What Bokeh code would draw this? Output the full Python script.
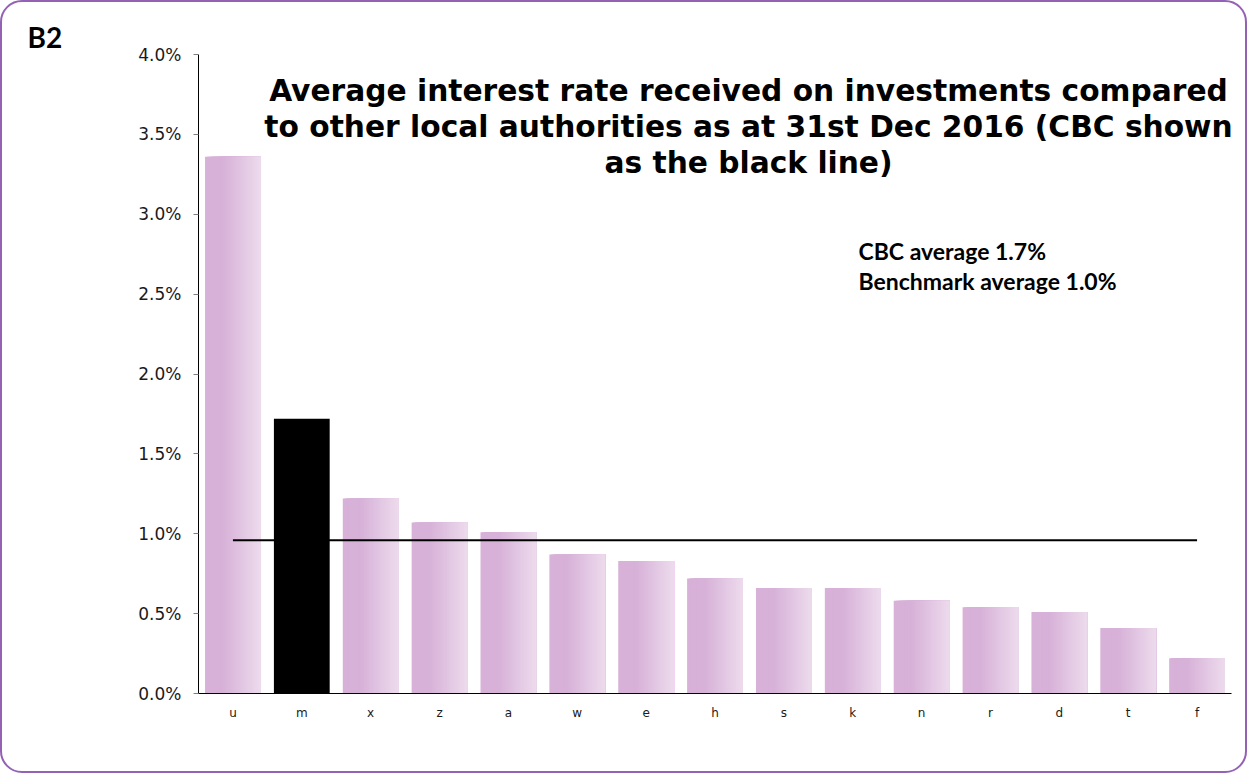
from bokeh.plotting import figure
from bokeh.models import (ColumnDataSource, Label, CustomJSTickFormatter,
                          FixedTicker, Range1d, Title)
from bokeh.transform import dodge
from bokeh.embed import file_html
from bokeh.resources import INLINE

# ---- data ----
categories = ["u", "m", "x", "z", "a", "w", "e", "h", "s", "k", "n", "r", "d", "t", "f"]
rates = [3.36, 1.72, 1.22, 1.07, 1.01, 0.87, 0.83, 0.72, 0.66, 0.66, 0.58, 0.54, 0.51, 0.41, 0.22]
cbc_category = "m"
benchmark = 0.96
y_ticks = [0.0, 0.5, 1.0, 1.5, 2.0, 2.5, 3.0, 3.5, 4.0]
title_lines = ["Average interest rate received on investments compared",
               "to other local authorities as at 31st Dec 2016 (CBC shown",
               "as the black line)"]
note_lines = ["CBC average 1.7%", "Benchmark average  1.0%"]
panel_label = "B2"

W, H = 1247, 773
p = figure(x_range=categories, y_range=Range1d(0, 4.0), width=W, height=H,
           output_backend="svg", toolbar_location=None,
           min_border_left=198, min_border_right=16, min_border_top=54, min_border_bottom=80,
           background_fill_color="white", border_fill_color=None, border_fill_alpha=0)
p.outline_line_color = None
p.xgrid.grid_line_color = None
p.ygrid.grid_line_color = None
# rounded purple frame around the whole chart
p.styles = {"outline": "2px solid #9462b4", "outline-offset": "-2px",
            "border-radius": "22px", "background-color": "white"}

# gradient bars: overlapping strips, each from its left edge to the bar's right edge
other = [(c, v) for c, v in zip(categories, rates) if c != cbc_category]
src = ColumnDataSource(dict(cat=[c for c, _ in other], val=[v for _, v in other]))
bar_w = 0.81
N = 30
c0 = (215, 177, 216)
c1 = (237, 220, 237)
for i in range(N):
    t = i / N
    f = 0.0 if t < 0.3 else (t - 0.3) / 0.7
    col = tuple(int(round(c0[k] + (c1[k] - c0[k]) * f)) for k in range(3))
    hexcol = "#%02x%02x%02x" % col
    left = -bar_w / 2 + i * bar_w / N
    right = bar_w / 2
    p.vbar(x=dodge("cat", (left + right) / 2, range=p.x_range), top="val", bottom=0,
           width=right - left, source=src, fill_color=hexcol, line_color=None)

cbc_src = ColumnDataSource(dict(cat=[cbc_category], val=[rates[categories.index(cbc_category)]]))
p.vbar(x="cat", top="val", bottom=0, width=bar_w, source=cbc_src,
       fill_color="black", line_color=None)

# benchmark line
p.line(x=[categories[0], categories[-1]], y=[benchmark, benchmark], line_color="black", line_width=2)

# axes
p.yaxis.ticker = FixedTicker(ticks=y_ticks)
p.yaxis.formatter = CustomJSTickFormatter(code="return tick.toFixed(1) + '%';")
p.yaxis.major_label_text_font = "DejaVu Sans"
p.yaxis.major_label_text_font_size = "17px"
p.yaxis.major_label_text_color = "#1a1a1a"
p.yaxis.major_label_standoff = 12
p.yaxis.major_tick_in = 0
p.yaxis.major_tick_out = 5
p.yaxis.major_tick_line_color = "#808080"
p.yaxis.minor_tick_line_color = None
p.yaxis.axis_line_color = "black"
p.yaxis.axis_line_width = 1

p.xaxis.major_label_text_font = "DejaVu Sans"
p.xaxis.major_label_text_font_size = "12px"
p.xaxis.major_label_text_color = "#1a1a1a"
p.xaxis.major_label_standoff = 6
p.xaxis.major_tick_line_color = None
p.xaxis.minor_tick_line_color = None
p.xaxis.axis_line_color = "black"
p.xaxis.axis_line_width = 1

# title
p.add_layout(Label(x=748, y=72, x_units="canvas", y_units="canvas", text="\n".join(title_lines),
                   text_align="center", text_baseline="top", text_font="DejaVu Sans",
                   text_font_style="bold", text_font_size="29.7px", text_color="black",
                   text_line_height=1.04))
# notes
p.add_layout(Label(x=858, y=236, x_units="canvas", y_units="canvas", text="\n".join(note_lines),
                   text_align="left", text_baseline="top", text_font="Lato",
                   text_font_style="bold", text_font_size="23px", text_color="black",
                   text_line_height=1.1))
# panel label
p.add_layout(Title(text=panel_label, align="left", offset=-171, standoff=2,
                   text_font="Lato", text_font_style="bold", text_font_size="28px",
                   text_color="black"), "above")

open("out.html", "w").write(file_html(p, INLINE))
